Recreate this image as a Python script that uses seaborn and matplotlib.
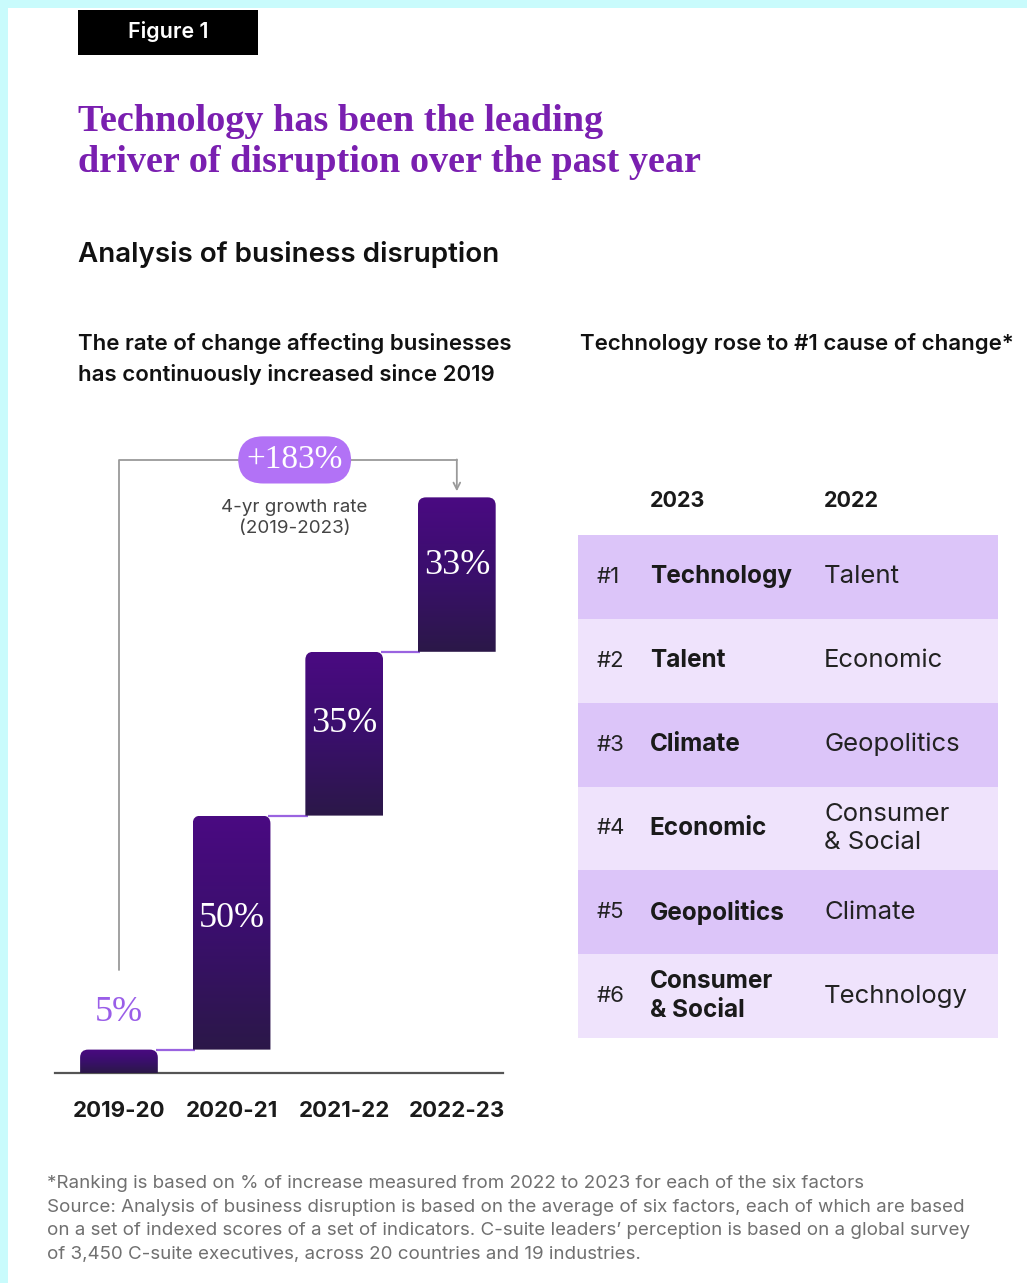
import numpy as np
import pandas as pd
import matplotlib
matplotlib.use("Agg")
import matplotlib.pyplot as plt
import seaborn as sns
from matplotlib.path import Path
from matplotlib.patches import PathPatch, Rectangle
from matplotlib.colors import LinearSegmentedColormap

# ---------------- data ----------------
periods = ["2019-20", "2020-21", "2021-22", "2022-23"]
increments = [5, 50, 35, 33]
growth_label = "+183%"
growth_note = "4-yr growth rate\n(2019-2023)"

ranks = ["#1", "#2", "#3", "#4", "#5", "#6"]
rank_2023 = ["Technology", "Talent", "Climate", "Economic", "Geopolitics", "Consumer\n& Social"]
rank_2022 = ["Talent", "Economic", "Geopolitics", "Consumer\n& Social", "Climate", "Technology"]

title = "Technology has been the leading\ndriver of disruption over the past year"
section = "Analysis of business disruption"
left_sub = "The rate of change affecting businesses\nhas continuously increased since 2019"
right_sub = "Technology rose to #1 cause of change*"
footnote = ("*Ranking is based on % of increase measured from 2022 to 2023 for each of the six factors\n"
            "Source: Analysis of business disruption is based on the average of six factors, each of which are based\n"
            "on a set of indexed scores of a set of indicators. C-suite leaders\u2019 perception is based on a global survey\n"
            "of 3,450 C-suite executives, across 20 countries and 19 industries.")

starts = list(np.concatenate([[0], np.cumsum(increments)[:-1]]))
ends = list(np.cumsum(increments))

# ---------------- style ----------------
sns.set_theme(style="white")
SANS = ["Inter", "DejaVu Sans"]
SERIF = ["Liberation Serif", "DejaVu Serif"]
plt.rcParams["font.family"] = SANS

W, H = 1027, 1283
fig = plt.figure(figsize=(W / 100, H / 100), dpi=100)
fig.patch.set_facecolor("#c9fbfc")

def fx(px):
    return px / W

def fy(py):
    return 1 - py / H

# white panel
fig.add_artist(Rectangle((fx(8), 0), 1 - fx(8), fy(8), transform=fig.transFigure,
                         facecolor="white", edgecolor="none", zorder=0))
# Figure 1 tag
fig.add_artist(Rectangle((fx(78), fy(55)), fx(258) - fx(78), fy(10) - fy(55),
                         transform=fig.transFigure, facecolor="black", edgecolor="none", zorder=1))
fig.text(fx(168), fy(32), "Figure 1", color="white", fontsize=15.5, fontweight="semibold",
         ha="center", va="center", family=SANS)

fig.text(fx(78), fy(142), title, color="#7a1fb0", fontsize=27.5, family=SERIF,
         fontweight="bold", ha="left", va="center", linespacing=1.22)
fig.text(fx(78), fy(255), section, color="#111111", fontsize=20, fontweight="semibold",
         ha="left", va="center")
fig.text(fx(78), fy(359), left_sub, color="#111111", fontsize=16, fontweight="semibold",
         ha="left", va="center", linespacing=1.6)
fig.text(fx(580), fy(343), right_sub, color="#111111", fontsize=16, fontweight="semibold",
         ha="left", va="center")
fig.text(fx(47), fy(1219), footnote, color="#707070", fontsize=13.5, ha="left", va="center",
         linespacing=1.52)

# ---------------- waterfall bars ----------------
base_px, top_px = 1073, 400
ax = fig.add_axes([fx(55), fy(base_px), fx(503) - fx(55), fy(top_px) - fy(base_px)])
ax.set_facecolor("none")
df = pd.DataFrame({"period": periods, "inc": increments})
sns.barplot(data=df, x="period", y="inc", ax=ax, width=0.69, color="#3b0d6e",
            saturation=1, errorbar=None)

px_per_unit = 4.68
ymax = (base_px - top_px) / px_per_unit
ax.set_ylim(0, ymax)
ax.set_xlim(-0.568, 3.41)

cmap = LinearSegmentedColormap.from_list("bar", ["#2b1848", "#3a0f6c", "#4a0a82"])
rx = 8 / 112.7
ry = 8 / px_per_unit
for patch, s in zip(ax.patches, starts):
    patch.set_y(s)
    x0, w, h = patch.get_x(), patch.get_width(), patch.get_height()
    y0, y1 = s, s + h
    verts = [(x0, y0), (x0 + w, y0), (x0 + w, y1 - ry), (x0 + w, y1), (x0 + w - rx, y1),
             (x0 + rx, y1), (x0, y1), (x0, y1 - ry), (x0, y0)]
    codes = [Path.MOVETO, Path.LINETO, Path.LINETO, Path.CURVE3, Path.CURVE3,
             Path.LINETO, Path.CURVE3, Path.CURVE3, Path.CLOSEPOLY]
    pp = PathPatch(Path(verts, codes), facecolor="none", edgecolor="none", transform=ax.transData)
    ax.add_patch(pp)
    grad = np.linspace(0, 1, 256).reshape(-1, 1)
    im = ax.imshow(grad, extent=(x0, x0 + w, y0, y1), origin="lower", aspect="auto",
                   cmap=cmap, zorder=3)
    im.set_clip_path(pp)
    patch.set_visible(False)
ax.set_ylim(0, ymax)
ax.set_xlim(-0.568, 3.41)

# connectors
half = 0.69 / 2
for i in range(len(periods) - 1):
    ax.plot([i + half - 0.02, i + 1 - half + 0.02], [ends[i], ends[i]], color="#9a63e0",
            lw=1.6, zorder=2, solid_capstyle="butt")

# value labels
for i, (s, inc) in enumerate(zip(starts, increments)):
    if i == 0:
        ax.text(i, ends[i] + 8, f"{inc}%", color="#9a5ee8", fontsize=26, family=SERIF,
                ha="center", va="center", zorder=5)
    else:
        ax.text(i, s + inc * 0.56, f"{inc}%", color="white", fontsize=26, family=SERIF,
                ha="center", va="center", zorder=5)

# bracket
yb = 131
ax.plot([0, 0, 3, 3], [22, yb, yb, yb], color="#9a9a9a", lw=1.3, zorder=1, clip_on=False)
ax.annotate("", xy=(3, 124.3), xytext=(3, yb + 0.1),
            arrowprops=dict(arrowstyle="->", color="#9a9a9a", lw=1.3, shrinkA=0, shrinkB=0),
            annotation_clip=False)
ax.text(1.56, yb, growth_label, color="white", fontsize=24, family=SERIF, ha="center",
        va="center", zorder=6,
        bbox=dict(boxstyle="round,pad=0.25,rounding_size=0.75", fc="#b272f6", ec="none"))
ax.text(1.56, 118.6, growth_note, color="#444444", fontsize=13.5, ha="center", va="center",
        linespacing=1.35)

sns.despine(ax=ax, left=True, top=True, right=True)
ax.spines["bottom"].set_color("#555555")
ax.spines["bottom"].set_linewidth(1.6)
ax.set_yticks([])
ax.set_xlabel("")
ax.set_ylabel("")
ax.tick_params(axis="x", length=0, pad=20, labelsize=16, labelcolor="#1a1a1a")
for lab in ax.get_xticklabels():
    lab.set_fontweight("bold")

# ---------------- ranking table ----------------
tab_top, tab_bot = 535, 1038
tax = fig.add_axes([fx(578), fy(tab_bot), fx(998) - fx(578), fy(tab_top) - fy(tab_bot)])
tax.set_xlim(0, 1)
tax.set_ylim(len(ranks), 0)
tax.axis("off")
row_colors = ["#dcc5f9", "#efe3fc"]
for i in range(len(ranks)):
    tax.axhspan(i, i + 1, xmin=0, xmax=1, facecolor=row_colors[i % 2], edgecolor="none")
    tax.text(0.045, i + 0.5, ranks[i], fontsize=16, color="#222222", ha="left", va="center")
    tax.text(0.171, i + 0.5, rank_2023[i], fontsize=17.5, fontweight="bold", color="#1a1a1a",
             ha="left", va="center", linespacing=1.3)
    tax.text(0.586, i + 0.5, rank_2022[i], fontsize=18.5, color="#222222",
             ha="left", va="center", linespacing=1.3)
tax.text(0.171, -0.405, "2023", fontsize=15.5, fontweight="bold", color="#1a1a1a",
         ha="left", va="center", clip_on=False)
tax.text(0.586, -0.405, "2022", fontsize=15.5, fontweight="bold", color="#1a1a1a",
         ha="left", va="center", clip_on=False)

fig.savefig("out.png", dpi=100, facecolor=fig.get_facecolor())
